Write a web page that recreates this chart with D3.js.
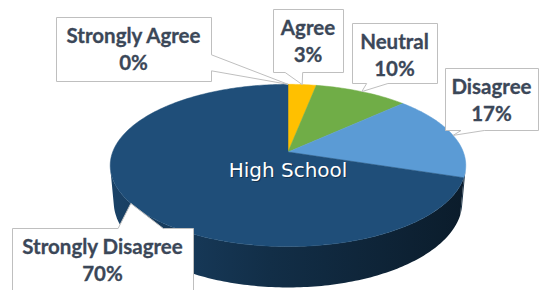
<!DOCTYPE html>
<html>
<head>
<meta charset="utf-8">
<script src="https://cdn.jsdelivr.net/npm/d3@7"></script>
<style>
  html, body { margin: 0; padding: 0; background: #fff; }
  svg { display: block; }
</style>
</head>
<body>
<div id="chart"></div>
<script>
// High School - 3D pie with callout labels
const categories = ['Strongly Agree', 'Agree', 'Neutral', 'Disagree', 'Strongly Disagree'];
const values = [0, 3, 10, 17, 70];
const pctLabels = ['0%', '3%', '10%', '17%', '70%'];
const sliceColors = ['#264478', '#ffc000', '#70ad47', '#5b9bd5', '#1f4e79'];
const centerTitle = 'High School';

(function() {
  const width = 540;
  const height = 290;

  // perspective setup (fitted to the picture)
  const cx = 288, cy = 152;
  const D = 5.39, F = 945;
  const sinA = 0.45, cosA = 0.893;
  const thick = 0.235;

  // label boxes (top-left corner, size)
  const boxes = [
    { x: 56, y: 17, w: 155, h: 64 },
    { x: 273, y: 9, w: 70, h: 63 },
    { x: 352, y: 23, w: 85, h: 60 },
    { x: 445, y: 68, w: 93, h: 62 },
    { x: 12, y: 228, w: 181, h: 64 }
  ];

  function proj(theta, H) {
    const X = Math.sin(theta), Yd = -Math.cos(theta);
    const up = H * cosA - Yd * sinA;
    const depth = D - Yd * cosA - H * sinA;
    return [cx + F * X / depth, cy - F * up / depth];
  }

  const svg = d3.select('#chart')
    .append('svg')
    .attr('width', width)
    .attr('height', height)
    .style('background', '#fff');

  const defs = svg.append('defs');

  const pie = d3.pie().sort(null).value(d => d).startAngle(0).endAngle(2 * Math.PI);
  const arcs = pie(values);

  const sideG = svg.append('g');
  const topG = svg.append('g');
  const labelG = svg.append('g');

  // outer rim, visible where the side faces the camera
  const visLo = Math.acos(-1 / (D * cosA));
  const visHi = 2 * Math.PI - visLo;
  const step = Math.PI / 180;
  const xL = proj(visHi, 0)[0], xR = proj(visLo, 0)[0];

  arcs.forEach((a, i) => {
    const s = Math.max(a.startAngle, visLo);
    const e = Math.min(a.endAngle, visHi);
    if (e <= s) return;
    const base = d3.color(sliceColors[i]);
    const gid = 'side' + i;
    const grad = defs.append('linearGradient')
      .attr('id', gid)
      .attr('gradientUnits', 'userSpaceOnUse')
      .attr('x1', xL).attr('y1', 0).attr('x2', xR).attr('y2', 0);
    grad.append('stop').attr('offset', '0%').attr('stop-color', base.darker(0.45));
    grad.append('stop').attr('offset', '45%').attr('stop-color', base.darker(1.5));
    grad.append('stop').attr('offset', '100%').attr('stop-color', base.darker(2.9));

    const topPts = [], botPts = [];
    const n = Math.max(2, Math.ceil((e - s) / step));
    for (let k = 0; k <= n; k++) {
      const t = s + (e - s) * k / n;
      topPts.push(proj(t, 0));
      botPts.push(proj(t, -thick));
    }
    sideG.append('path')
      .attr('d', d3.line()(topPts.concat(botPts.reverse())) + 'Z')
      .attr('fill', `url(#${gid})`);
  });

  // top face
  arcs.forEach((a, i) => {
    if (a.endAngle - a.startAngle <= 0) return;
    const pts = [[cx, cy]];
    const n = Math.max(2, Math.ceil((a.endAngle - a.startAngle) / step));
    for (let k = 0; k <= n; k++) {
      pts.push(proj(a.startAngle + (a.endAngle - a.startAngle) * k / n, 0));
    }
    topG.append('path')
      .attr('d', d3.line()(pts) + 'Z')
      .attr('fill', sliceColors[i])
      .attr('stroke', sliceColors[i])
      .attr('stroke-width', 0.5);
  });

  // center title
  topG.append('text')
    .attr('x', 289)
    .attr('y', 178)
    .attr('text-anchor', 'middle')
    .attr('font-family', 'DejaVu Sans, sans-serif')
    .attr('font-size', '20px')
    .attr('fill', '#000')
    .attr('opacity', 0.35)
    .text(centerTitle);

  topG.append('text')
    .attr('x', 288)
    .attr('y', 177)
    .attr('text-anchor', 'middle')
    .attr('font-family', 'DejaVu Sans, sans-serif')
    .attr('font-size', '20px')
    .attr('fill', '#fff')
    .text(centerTitle);

  // rectangular callout, wedge on the side facing the tip
  function callout(b, tip) {
    const l = b.x + 0.5, t = b.y + 0.5, r = b.x + b.w + 0.5, bt = b.y + b.h + 0.5;
    const w = b.w, h = b.h;
    const dx = tip[0] - (l + w / 2), dy = tip[1] - (t + h / 2);
    const x1 = l + w * (dx > 0 ? 7 : 2) / 12, x2 = l + w * (dx > 0 ? 10 : 5) / 12;
    const y1 = t + h * (dy > 0 ? 7 : 2) / 12, y2 = t + h * (dy > 0 ? 10 : 5) / 12;
    const vert = Math.abs(dy) / h > Math.abs(dx) / w;
    const p = [[l, t]];
    if (vert && dy < 0) p.push([x1, t], tip, [x2, t]);
    p.push([r, t]);
    if (!vert && dx > 0) p.push([r, y1], tip, [r, y2]);
    p.push([r, bt]);
    if (vert && dy > 0) p.push([x2, bt], tip, [x1, bt]);
    p.push([l, bt]);
    if (!vert && dx < 0) p.push([l, y2], tip, [l, y1]);
    return d3.line()(p) + 'Z';
  }

  arcs.forEach((a, i) => {
    const b = boxes[i];
    const mid = (a.startAngle + a.endAngle) / 2;
    const tip = proj(mid, 0);

    labelG.append('path')
      .attr('d', callout(b, tip))
      .attr('fill', '#fff')
      .attr('stroke', '#bfbfbf')
      .attr('stroke-width', 1);

    const tx = b.x + b.w / 2;
    [categories[i], pctLabels[i]].forEach((txt, j) => {
      labelG.append('text')
        .attr('x', tx)
        .attr('y', b.y + 26 + j * 27)
        .attr('text-anchor', 'middle')
        .attr('font-family', 'Lato, sans-serif')
        .attr('font-weight', 'bold')
        .attr('font-size', '20.5px')
        .attr('fill', '#3b4758')
        .attr('stroke', '#3b4758')
        .attr('stroke-width', 0.3)
        .text(txt);
    });
  });
})();
</script>
</body>
</html>
